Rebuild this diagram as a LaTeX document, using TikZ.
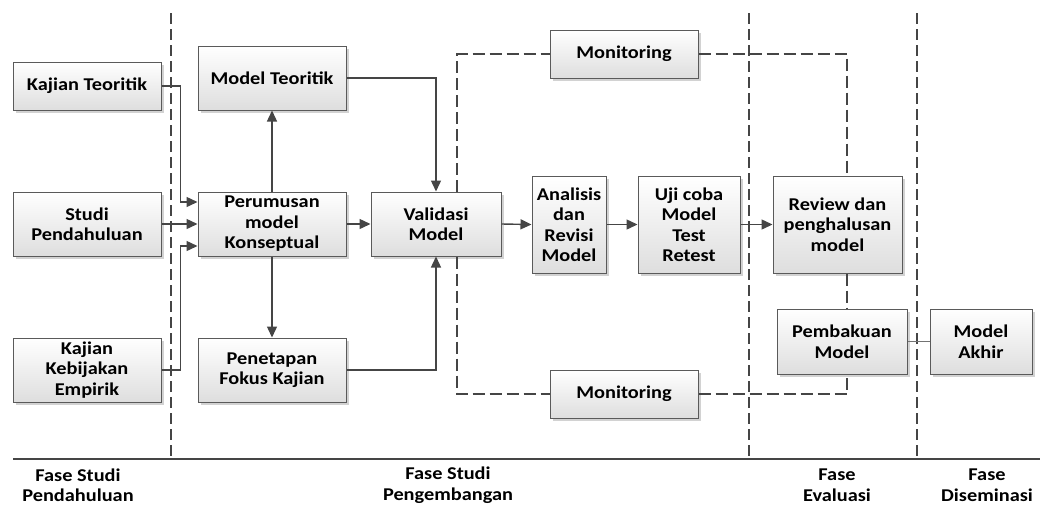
\documentclass[tikz,border=0pt]{standalone}
\usepackage{fontspec}
\setmainfont{Carlito}[FakeStretch=1.13]
\usetikzlibrary{arrows.meta,shadows,calc}
\definecolor{ln}{HTML}{454545}
\definecolor{bd}{HTML}{5A5A5A}
\tikzset{
  box/.style={draw=bd, line width=1pt, top color=white, bottom color=black!13,
    drop shadow={shadow xshift=2.5pt, shadow yshift=-2.5pt, fill=black!35, opacity=.5},
    align=center, inner sep=1pt, font=\fontsize{18}{20.5}\selectfont\bfseries},
  arr/.style={draw=ln, line width=1.4pt, -{Triangle[length=11pt,width=10pt]}},
  dline/.style={draw=ln, line width=1.4pt, dash pattern=on 12pt off 5pt},
  phase/.style={draw=ln, line width=1.6pt, dash pattern=on 11pt off 5pt},
  lbl/.style={align=center, font=\fontsize{18}{20.5}\selectfont\bfseries, inner sep=0pt}
}
\begin{document}
\begin{tikzpicture}[x=1pt,y=-1pt]
\useasboundingbox (0,0) rectangle (1040,504);
% phase lines
\draw[phase] (171,13) -- (171,459);
\draw[phase] (749,13) -- (749,459);
\draw[phase] (917,13) -- (917,459);
\draw[draw=ln, line width=1.5pt] (13,459) -- (1040,459);
% boxes
\node[box, minimum width=148pt, minimum height=48pt] (kt) at (87,86) {Kajian Teoritik};
\node[box, minimum width=148pt, minimum height=64pt] (sp) at (87,224) {Studi\\Pendahuluan};
\node[box, minimum width=148pt, minimum height=64pt] (kk) at (87,370) {Kajian\\Kebijakan\\Empirik};
\node[box, minimum width=148pt, minimum height=64pt] (mt) at (272,78) {Model Teoritik};
\node[box, minimum width=148pt, minimum height=64pt] (pm) at (272,224) {Perumusan\\model\\Konseptual};
\node[box, minimum width=148pt, minimum height=64pt] (pf) at (272,370) {Penetapan\\Fokus Kajian};
\node[box, minimum width=130pt, minimum height=64pt] (vm) at (436,224) {Validasi\\Model};
\node[box, minimum width=74pt, minimum height=97pt] (ar) at (569,224.5) {Analisis\\dan\\Revisi\\Model};
\node[box, minimum width=102pt, minimum height=97pt] (uc) at (689,224.5) {Uji coba\\Model\\Test\\Retest};
\node[box, minimum width=129pt, minimum height=97pt] (rv) at (837.5,224.5) {Review dan\\penghalusan\\model};
\node[box, minimum width=130pt, minimum height=65pt] (pb) at (842,341.5) {Pembakuan\\Model};
\node[box, minimum width=102pt, minimum height=65pt] (ma) at (981,341.5) {Model\\Akhir};
\node[box, minimum width=148pt, minimum height=48pt] (mo1) at (624,54) {Monitoring};
\node[box, minimum width=148pt, minimum height=48pt] (mo2) at (624,394) {Monitoring};
\coordinate (cx) at (847,0);
\coordinate (vx) at (457,0);
% connectors
\draw[arr] (kt.east) -- ++(19,0) |- ([yshift=22pt]pm.west);
\draw[arr] (sp.east) -- (pm.west);
\draw[arr] (kk.east) -- ++(19,0) |- ([yshift=-22pt]pm.west);
\draw[arr] (pm.north) -- (mt.south);
\draw[arr] (pm.south) -- (pf.north);
\draw[arr] (mt.east) -| (vm.north);
\draw[arr] (pf.east) -| (vm.south);
\draw[arr] (pm.east) -- (vm.west);
\draw[arr] (vm.east) -- (ar.west);
\draw[arr] (ar.east) -- (uc.west);
\draw[arr] (uc.east) -- (rv.west);
\draw[dline] (vx |- vm.north) |- (mo1.west);
\draw[dline] (mo1.east) -| (cx |- rv.north);
\draw[dline] (vx |- vm.south) |- (mo2.west);
\draw[dline] (mo2.east) -| (cx |- pb.south);
\draw[dline] (cx |- rv.south) -- (cx |- pb.north);
\draw[draw=black!55, line width=1pt] (pb.east) -- (ma.west);
% phase labels
\node[lbl] (l1) at (78,485) {Fase Studi\\Pendahuluan};
\node[lbl] (l2) at (448,485) {Fase Studi\\Pengembangan};
\node[lbl] (l3) at (837,485) {Fase\\Evaluasi};
\node[lbl] (l4) at (987,485) {Fase\\Diseminasi};
\end{tikzpicture}
\end{document}
